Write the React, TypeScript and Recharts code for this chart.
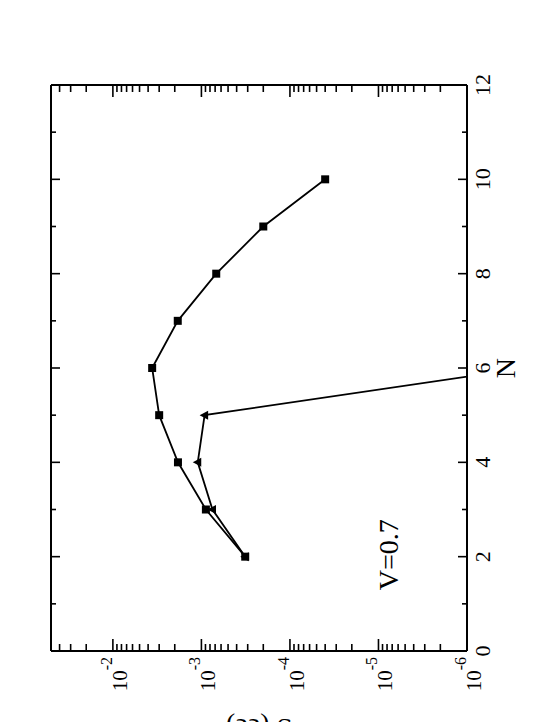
import React from 'react';
import { LineChart, Line, XAxis, YAxis, ReferenceDot } from 'recharts';

// N values
const nValues = [2, 3, 4, 5, 6, 7, 8, 9, 10];
// squares series
const squareValues = [3.2e-4, 8.9e-4, 1.84e-3, 3.0e-3, 3.6e-3, 1.85e-3, 6.8e-4, 2.0e-4, 4.0e-5];
// triangles series (N = 2..6); last one falls below the axis range
const triangleN = [2, 3, 4, 5, 6];
const triangleValues = [3.2e-4, 7.5e-4, 1.1e-3, 9.2e-4, 2.2e-7];

const nTicks = [0, 1, 2, 3, 4, 5, 6, 7, 8, 9, 10, 11, 12];
const decadeExponents = [-6, -5, -4, -3, -2];
const minorMultipliers = [1, 2, 3, 4, 5, 6, 7, 8, 9];
const yDomain: [number, number] = [1e-6, 5e-2];

const annotationText = 'V=0.7';
const xLabel = 'N';
const yLabel = 'S (ee)';

const logTicks: number[] = [];
decadeExponents.forEach((e) => {
  minorMultipliers.forEach((m) => {
    const v = parseFloat((m * Math.pow(10, e)).toPrecision(3));
    if (v <= yDomain[1] * 1.0001) logTicks.push(v);
  });
});

const data = nValues.map((n, i) => {
  const ti = triangleN.indexOf(n);
  return { n, sq: squareValues[i], tri: ti >= 0 ? triangleValues[ti] : undefined };
});

const FONT = '"Liberation Serif", "Times New Roman", serif';
const isDecade = (v: number) => Math.abs(Math.log10(v) - Math.round(Math.log10(v))) < 1e-6;

const NTickBottom = (props: any) => {
  const { x, y, payload } = props;
  const v = payload.value;
  const major = v % 2 === 0;
  return (
    <g>
      <line x1={x} y1={y} x2={x} y2={y - (major ? 9 : 5)} stroke="#000" strokeWidth={1.6} />
      {major && (
        <text x={x} y={y + 23} textAnchor="middle" fontSize={22} fontFamily={FONT} fill="#000">
          {v}
        </text>
      )}
    </g>
  );
};

const NTickTop = (props: any) => {
  const { x, y, payload } = props;
  const major = payload.value % 2 === 0;
  return <line x1={x} y1={y} x2={x} y2={y + (major ? 9 : 5)} stroke="#000" strokeWidth={1.6} />;
};

const LogTickLeft = (props: any) => {
  const { x, y, payload } = props;
  const v = payload.value;
  const dec = isDecade(v);
  const exp = Math.round(Math.log10(v));
  return (
    <g>
      <line x1={x} y1={y} x2={x + (dec ? 12 : 7)} y2={y} stroke="#000" strokeWidth={1.6} />
      {dec && (
        <text x={x - 6} y={y + 14} textAnchor="end" fontSize={21} fontFamily={FONT} fill="#000">
          <tspan>10</tspan>
          <tspan dy={-15} fontSize={16}>{String(exp)}</tspan>
        </text>
      )}
    </g>
  );
};

const LogTickRight = (props: any) => {
  const { x, y, payload } = props;
  const dec = isDecade(payload.value);
  return <line x1={x} y1={y} x2={x - (dec ? 12 : 7)} y2={y} stroke="#000" strokeWidth={1.6} />;
};

const Square = (props: any) => {
  const { cx, cy, index } = props;
  if (cx == null || cy == null) return <g key={`s${index}`} />;
  return <rect key={`s${index}`} x={cx - 4} y={cy - 4} width={8} height={8} fill="#000" />;
};

const Triangle = (props: any) => {
  const { cx, cy, index } = props;
  if (cx == null || cy == null) return <g key={`t${index}`} />;
  return (
    <polygon
      key={`t${index}`}
      points={`${cx},${cy - 5} ${cx - 4.5},${cy + 3.5} ${cx + 4.5},${cy + 3.5}`}
      fill="#000"
    />
  );
};

const axisLine = { stroke: '#000', strokeWidth: 2 };

export default function App() {
  return (
    <div style={{ position: 'fixed', left: 0, top: 0, width: 557, height: 722, overflow: 'hidden', background: '#fff' }}>
      <div
        style={{
          position: 'absolute',
          left: 0,
          top: 0,
          width: 722,
          height: 557,
          transformOrigin: '0 0',
          transform: 'translate(0px, 722px) rotate(-90deg)',
        }}
      >
        <LineChart width={722} height={557} data={data} margin={{ top: 50, right: 84, bottom: 0, left: 0 }}>
          <XAxis
            xAxisId="b"
            dataKey="n"
            type="number"
            domain={[0, 12]}
            ticks={nTicks}
            interval={0}
            allowDataOverflow
            height={90}
            tickSize={0}
            tickMargin={0}
            tickLine={false}
            axisLine={axisLine}
            tick={NTickBottom}
            label={{
              content: (p: any) => {
                const vb = p.viewBox;
                return (
                  <text x={vb.x + vb.width / 2} y={vb.y + 48} textAnchor="middle" fontSize={28} fontFamily={FONT} fill="#000">
                    {xLabel}
                  </text>
                );
              },
            }}
          />
          <XAxis
            xAxisId="t"
            orientation="top"
            dataKey="n"
            type="number"
            domain={[0, 12]}
            ticks={nTicks}
            interval={0}
            allowDataOverflow
            height={1}
            tickSize={0}
            tickMargin={0}
            tickLine={false}
            axisLine={axisLine}
            tick={NTickTop}
          />
          <YAxis
            yAxisId="l"
            type="number"
            scale="log"
            domain={yDomain}
            ticks={logTicks}
            interval={0}
            allowDataOverflow
            width={71}
            tickSize={0}
            tickMargin={0}
            tickLine={false}
            axisLine={axisLine}
            tick={LogTickLeft}
            label={{
              content: (p: any) => {
                const vb = p.viewBox;
                const cy = vb.y + vb.height / 2;
                return (
                  <text
                    x={0}
                    y={0}
                    transform={`translate(3, ${cy}) rotate(-90)`}
                    textAnchor="middle"
                    fontSize={28}
                    fontFamily={FONT}
                    fill="#000"
                  >
                    {yLabel}
                  </text>
                );
              },
            }}
          />
          <YAxis
            yAxisId="r"
            orientation="right"
            type="number"
            scale="log"
            domain={yDomain}
            ticks={logTicks}
            interval={0}
            allowDataOverflow
            width={1}
            tickSize={0}
            tickMargin={0}
            tickLine={false}
            axisLine={axisLine}
            tick={LogTickRight}
          />
          <Line
            xAxisId="t"
            yAxisId="r"
            dataKey="sq"
            stroke="none"
            dot={false}
            activeDot={false}
            isAnimationActive={false}
          />
          <Line
            xAxisId="b"
            yAxisId="l"
            dataKey="sq"
            stroke="#000"
            strokeWidth={1.8}
            dot={Square}
            activeDot={false}
            isAnimationActive={false}
          />
          <Line
            xAxisId="b"
            yAxisId="l"
            dataKey="tri"
            stroke="#000"
            strokeWidth={1.8}
            dot={Triangle}
            activeDot={false}
            isAnimationActive={false}
          />
          <ReferenceDot
            xAxisId="b"
            yAxisId="l"
            x={1.29}
            y={6e-6}
            r={0}
            ifOverflow="visible"
            shape={(p: any) => (
              <text x={p.cx} y={p.cy} fontSize={28} fontFamily={FONT} fill="#000">
                {annotationText}
              </text>
            )}
          />
        </LineChart>
      </div>
    </div>
  );
}
